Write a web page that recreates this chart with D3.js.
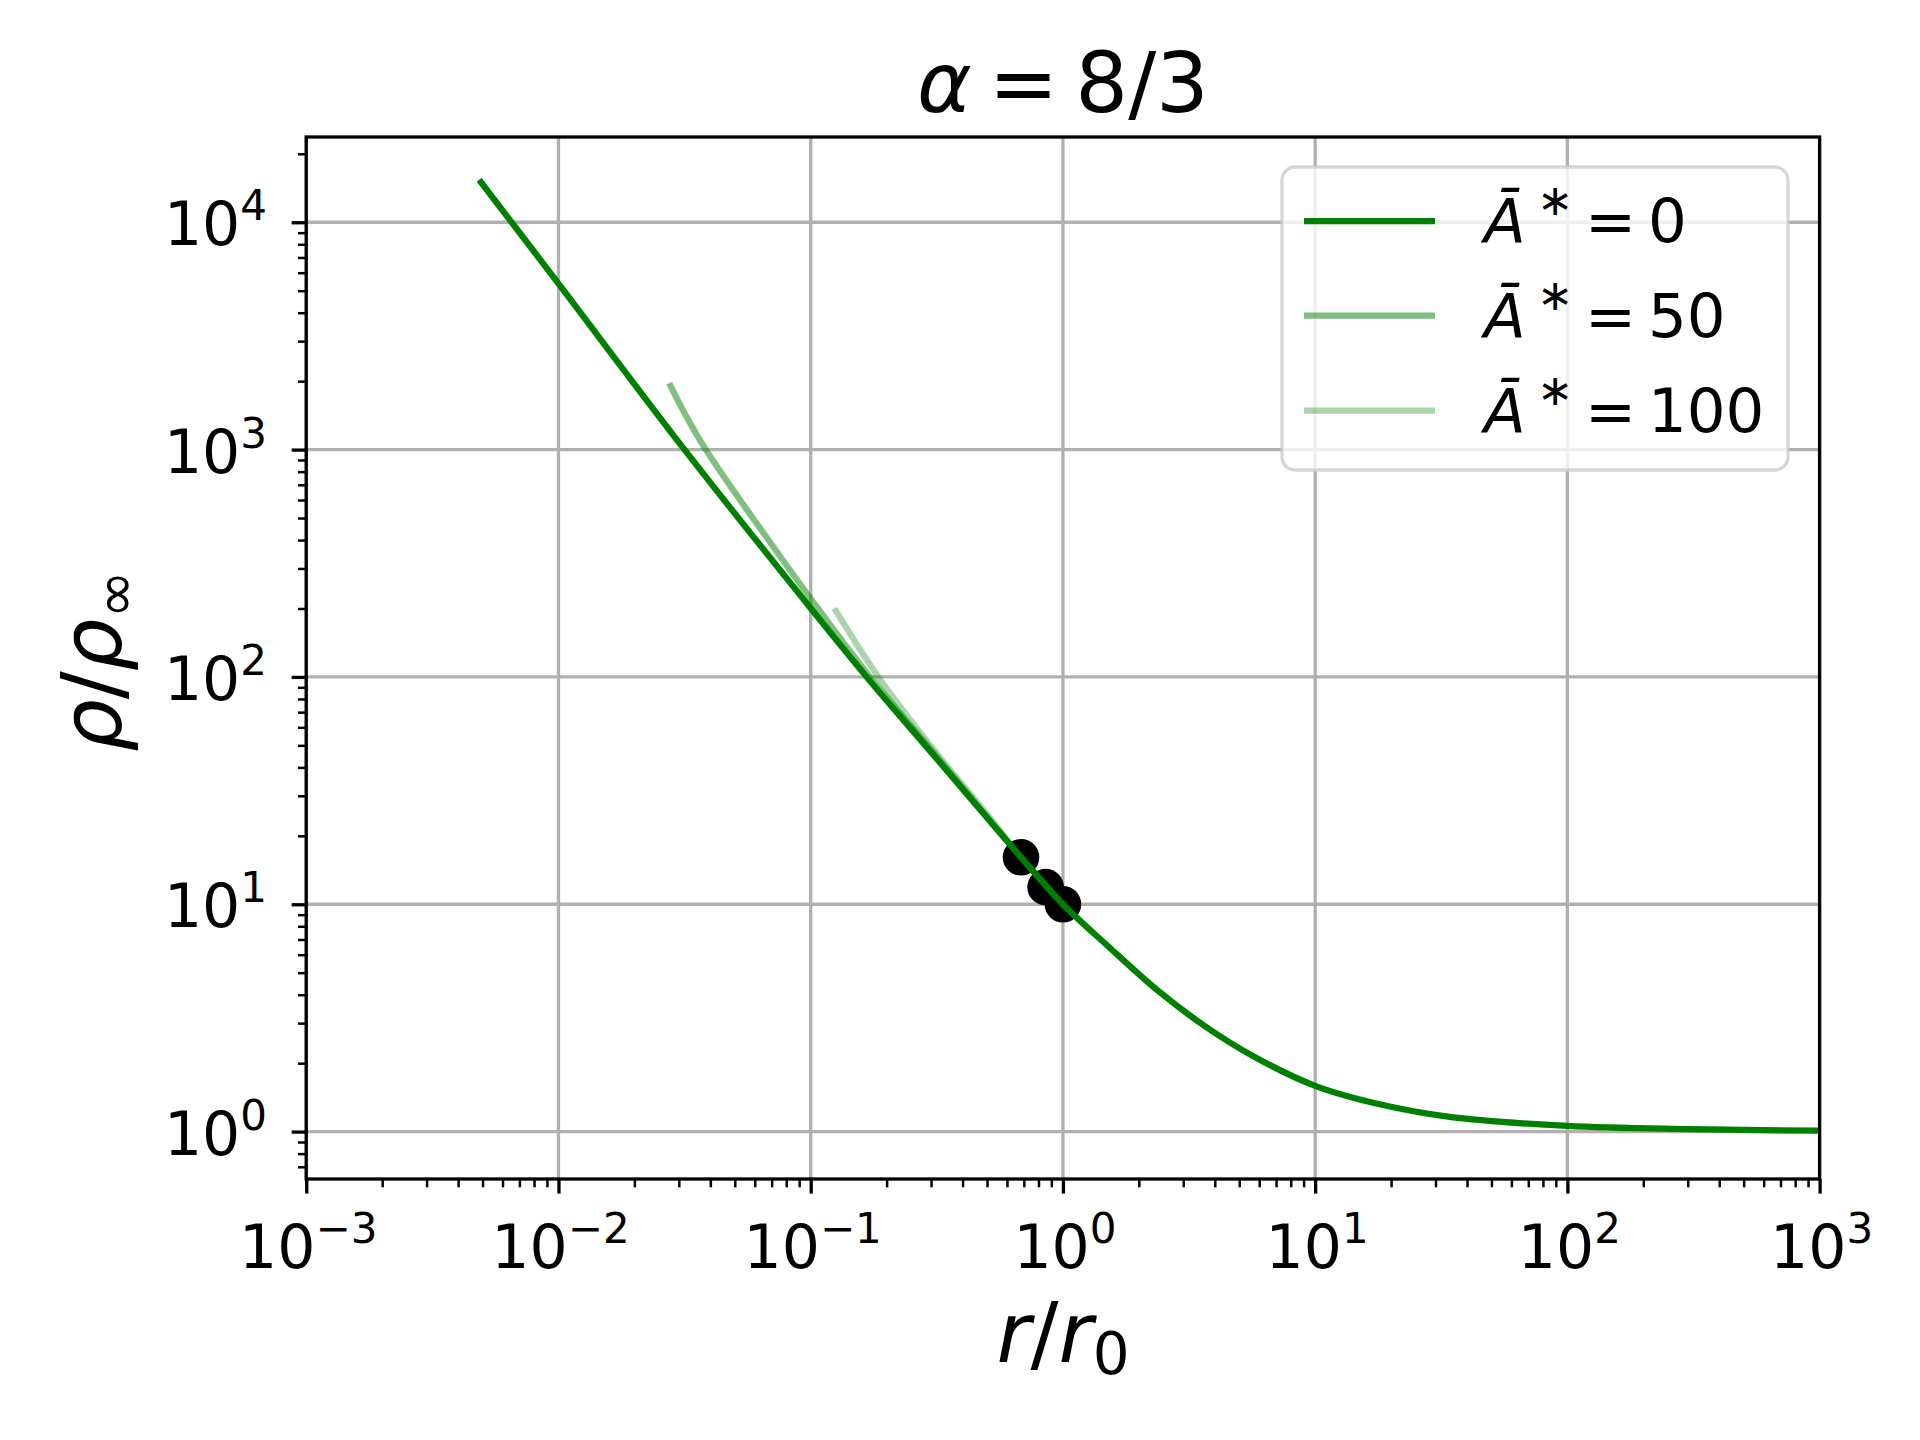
<!DOCTYPE html>
<html>
<head>
<meta charset="utf-8">
<script src="https://cdn.jsdelivr.net/npm/d3@7"></script>
<style>
  html, body { margin: 0; padding: 0; background: #ffffff; }
  svg { display: block; }
  text { font-family: "DejaVu Sans", sans-serif; fill: #000; }
  .it { font-style: italic; }
</style>
</head>
<body>
<svg id="chart" width="1920" height="1440"></svg>
<script>
// ---------------- data ----------------
const xTickExponents = [-3, -2, -1, 0, 1, 2, 3];
const yTickExponents = [0, 1, 2, 3, 4];

// A* = 0 curve
const rA0   = [0.00493, 0.01, 0.0316, 0.1, 0.1667, 0.316, 0.682, 1.0, 1.514, 2.36, 3.67, 5.71, 10, 17.3, 33.6, 100, 306, 1000];
const rhoA0 = [15000, 5370, 1000, 200.4, 100, 43.65, 16.1, 10, 6.52, 4.20, 2.90, 2.14, 1.59, 1.333, 1.164, 1.059, 1.025, 1.009];

// A* = 50 curve
const rA50   = [0.02782, 0.03162, 0.03811, 0.05012, 0.06109, 0.1, 0.1718, 0.316, 0.682, 1.0];
const rhoA50 = [1905, 1445, 1012, 645.7, 473, 221, 100, 44.7, 16.1, 10];

// A* = 100 curve
const rA100   = [0.1259, 0.1854, 0.316, 0.501, 0.682, 1.0];
const rhoA100 = [195, 100, 46.1, 24.8, 16.1, 10];

// black markers
const rDots   = [0.682, 0.854, 1.0];
const rhoDots = [16.1, 11.89, 10.0];

const seriesLabels = ["0", "50", "100"];
const seriesColors = ["rgba(0,128,0,1)", "rgba(0,128,0,0.5)", "rgba(0,128,0,0.33)"];

// ---------------- layout ----------------
const L = 306.25, R = 1819.6, T = 137, B = 1179;
const svg = d3.select("#chart");

const x = d3.scaleLog().domain([1e-3, 1e3]).range([L, R]);
const y = d3.scaleLog().domain([Math.pow(10, -0.2085), Math.pow(10, 4.375)]).range([B, T]);

svg.append("defs").append("clipPath").attr("id", "plotclip")
  .append("rect").attr("x", L).attr("y", T).attr("width", R - L).attr("height", B - T);

// grid
const gridColor = "#b0b0b0", gridW = 3.3;
const g = svg.append("g");
xTickExponents.forEach(k => {
  g.append("line").attr("x1", x(Math.pow(10, k))).attr("x2", x(Math.pow(10, k)))
    .attr("y1", T).attr("y2", B).attr("stroke", gridColor).attr("stroke-width", gridW);
});
yTickExponents.forEach(k => {
  g.append("line").attr("y1", y(Math.pow(10, k))).attr("y2", y(Math.pow(10, k)))
    .attr("x1", L).attr("x2", R).attr("stroke", gridColor).attr("stroke-width", gridW);
});

// markers (under lines)
const plot = svg.append("g").attr("clip-path", "url(#plotclip)");
plot.selectAll("circle.dot").data(rDots.map((r, i) => [r, rhoDots[i]])).enter()
  .append("circle").attr("class", "dot")
  .attr("cx", d => x(d[0])).attr("cy", d => y(d[1])).attr("r", 18.3).attr("fill", "#000");

// lines
const lineGen = d3.line().x(d => x(d[0])).y(d => y(d[1])).curve(d3.curveCatmullRom.alpha(0.5));
const series = [
  rA0.map((r, i) => [r, rhoA0[i]]),
  rA50.map((r, i) => [r, rhoA50[i]]),
  rA100.map((r, i) => [r, rhoA100[i]])
];
series.forEach((s, i) => {
  plot.append("path").attr("d", lineGen(s)).attr("fill", "none")
    .attr("stroke", seriesColors[i]).attr("stroke-width", 6.25)
    .attr("stroke-linecap", "square").attr("stroke-linejoin", "round");
});

// axes with major + minor ticks
const majW = 3.3, majL = 14.6, minW = 2.5, minL = 8.3;
function minorVals(lo, hi) {
  const out = [];
  for (let e = Math.floor(Math.log10(lo)) - 1; e <= Math.ceil(Math.log10(hi)); e++) {
    for (let m = 2; m <= 9; m++) {
      const v = m * Math.pow(10, e);
      if (v >= lo * 1.0001 && v <= hi / 1.0001) out.push(v);
    }
  }
  return out;
}
const xAxisMajor = d3.axisBottom(x).tickValues(xTickExponents.map(k => Math.pow(10, k))).tickSize(majL).tickFormat("");
const xAxisMinor = d3.axisBottom(x).tickValues(minorVals(1e-3, 1e3)).tickSize(minL).tickFormat("");
const yAxisMajor = d3.axisLeft(y).tickValues(yTickExponents.map(k => Math.pow(10, k))).tickSize(majL).tickFormat("");
const yAxisMinor = d3.axisLeft(y).tickValues(minorVals(y.domain()[0], y.domain()[1])).tickSize(minL).tickFormat("");

function styleAxis(sel, w) {
  sel.select(".domain").remove();
  sel.selectAll(".tick line").attr("stroke", "#000").attr("stroke-width", w);
}
svg.append("g").attr("transform", `translate(0,${B})`).call(xAxisMinor).call(s => styleAxis(s, minW));
svg.append("g").attr("transform", `translate(0,${B})`).call(xAxisMajor).call(s => styleAxis(s, majW));
svg.append("g").attr("transform", `translate(${L},0)`).call(yAxisMinor).call(s => styleAxis(s, minW));
svg.append("g").attr("transform", `translate(${L},0)`).call(yAxisMajor).call(s => styleAxis(s, majW));

// spines
svg.append("rect").attr("x", L).attr("y", T).attr("width", R - L).attr("height", B - T)
  .attr("fill", "none").attr("stroke", "#000").attr("stroke-width", 3.3);

// tick labels
const tickFont = 60, supFont = 42;
function powLabel(parent, k, px, py, anchor) {
  const t = parent.append("text").attr("x", px).attr("y", py)
    .attr("text-anchor", anchor).attr("font-size", tickFont);
  t.append("tspan").text("10");
  t.append("tspan").attr("font-size", supFont).attr("dy", -25)
    .text(k < 0 ? "\u2212" + Math.abs(k) : String(k));
  return t;
}
xTickExponents.forEach(k => powLabel(svg, k, x(Math.pow(10, k)) + 2, 1268, "middle"));
yTickExponents.forEach(k => powLabel(svg, k, 267, y(Math.pow(10, k)) + 23, "end"));

// title
const tt = svg.append("text").attr("x", 1063).attr("y", 112).attr("text-anchor", "middle").attr("font-size", 83);
tt.append("tspan").attr("class", "it").text("α");
tt.append("tspan").attr("dx", 17).text("=");
tt.append("tspan").attr("dx", 17).text("8/3");

// x label
const xl = svg.append("text").attr("x", 1063).attr("y", 1362).attr("text-anchor", "middle").attr("font-size", 83);
xl.append("tspan").attr("class", "it").text("r");
xl.append("tspan").text("/");
xl.append("tspan").attr("class", "it").text("r");
xl.append("tspan").attr("font-size", 58).attr("dy", 12).text("0");

// y label
const yl = svg.append("text").attr("transform", "translate(121,661) rotate(-90)")
  .attr("text-anchor", "middle").attr("font-size", 83);
yl.append("tspan").attr("class", "it").text("ρ");
yl.append("tspan").text("/");
yl.append("tspan").attr("class", "it").text("ρ");
yl.append("tspan").attr("font-size", 58).attr("dy", 14).text("∞");

// legend
const lg = svg.append("g");
lg.append("rect").attr("x", 1282).attr("y", 167).attr("width", 506).attr("height", 303)
  .attr("rx", 13).attr("ry", 13)
  .attr("fill", "rgba(255,255,255,0.8)").attr("stroke", "rgba(204,204,204,0.8)").attr("stroke-width", 3.3);
const rowY = [221, 315.7, 410.7];
seriesLabels.forEach((lab, i) => {
  lg.append("line").attr("x1", 1304).attr("x2", 1435).attr("y1", rowY[i]).attr("y2", rowY[i])
    .attr("stroke", seriesColors[i]).attr("stroke-width", 6.25);
  const base = rowY[i] + 21;
  lg.append("text").attr("class", "it").attr("x", 1484).attr("y", base).attr("font-size", 61).text("Ā");
  lg.append("text").attr("x", 1537).attr("y", base - 27).attr("font-size", 43).text("∗");
  lg.append("text").attr("x", 1585).attr("y", base).attr("font-size", 61).text("=");
  lg.append("text").attr("x", 1648).attr("y", base).attr("font-size", 61).text(lab);
});
</script>
</body>
</html>
